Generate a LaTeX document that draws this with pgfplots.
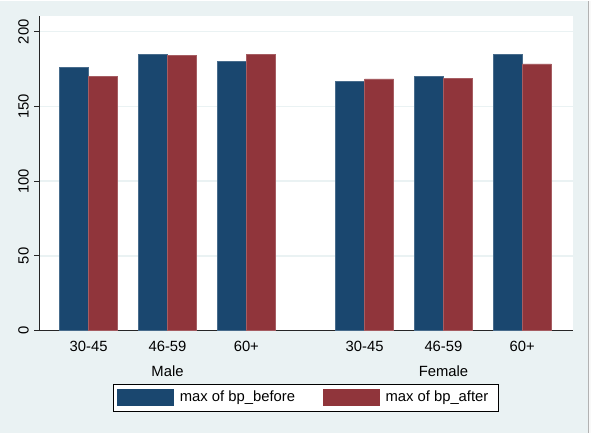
\documentclass[border=0pt]{standalone}
\usepackage{pgfplots}
\pgfplotsset{compat=1.18}
\usepackage{fontspec}
\setmainfont{Liberation Sans}
\definecolor{bgc}{HTML}{EAF2F3}
\definecolor{snavy}{HTML}{1A476F}
\definecolor{smaroon}{HTML}{90353B}
\definecolor{gridc}{HTML}{EAF2F3}
\begin{document}
\fontsize{14.8bp}{17bp}\selectfont
\begin{tikzpicture}[x=1bp,y=1bp]
\fill[bgc] (0,0) rectangle (591,432);
\fill[white!95!gray] (588,0) rectangle (591,432);
\draw[gray!60, line width=1.5bp] (588.3,0) -- (588.3,432);
\begin{axis}[
  at={(39bp,102bp)}, anchor=south west,
  scale only axis, width=533.7bp, height=315bp,
  xmin=-0.63, xmax=6.14, ymin=0, ymax=210.7,
  axis x line=bottom, axis y line=left,
  axis line style={-, line width=1bp, black!85},
  axis background/.style={fill=white},
  clip=false,
  /pgf/number format/assume math mode=true,
  ytick={0,50,100,150,200},
  yticklabel style={rotate=90, anchor=south, font=\fontsize{14.8bp}{17bp}\selectfont},
  xtick={0,1,2,3.5,4.5,5.5},
  xticklabels={30-45,46-59,60+,30-45,46-59,60+},
  xticklabel style={font=\fontsize{14.8bp}{17bp}\selectfont},
  xtick style={draw=none},
  ytick style={black!85, line width=1bp},
  tick align=outside, major tick length=5bp,
  ymajorgrids, grid style={gridc, line width=1.5bp},
  legend columns=2,
  legend style={at={(0.5,-0.1683)}, anchor=north, draw=black, line width=1bp,
    fill=white, inner xsep=4bp, inner ysep=5bp,
    /tikz/every even column/.append style={column sep=22bp},
    nodes={font=\fontsize{14.8bp}{17bp}\selectfont, inner xsep=6bp}},
]
\addplot[ybar, bar width=0.368, bar shift=-0.184, fill=snavy, draw=snavy!80!white, line width=0.5bp,
  legend image code/.code={\fill[snavy] (0bp,-8bp) rectangle (56bp,8bp);}]
  coordinates {(0,176) (1,185) (2,180) (3.5,167) (4.5,170) (5.5,185)};
\addlegendentry{max of bp\_before}
\addplot[ybar, bar width=0.368, bar shift=0.184, fill=smaroon, draw=smaroon!80!white, line width=0.5bp,
  legend image code/.code={\fill[smaroon] (0bp,-8bp) rectangle (56bp,8bp);}]
  coordinates {(0,170) (1,184) (2,185) (3.5,168.5) (4.5,169) (5.5,178.5)};
\addlegendentry{max of bp\_after}
\node at (axis cs:1,0) [yshift=-40bp] {Male};
\node at (axis cs:4.5,0) [yshift=-40bp] {Female};
\end{axis}
\end{tikzpicture}
\end{document}
